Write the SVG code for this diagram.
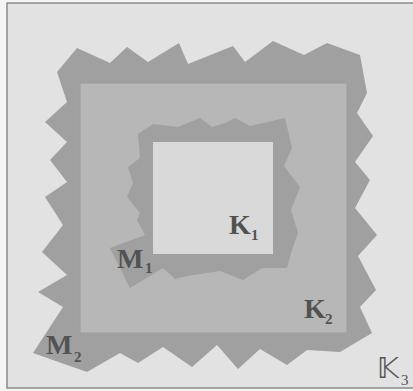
<svg xmlns="http://www.w3.org/2000/svg" width="413" height="391" viewBox="0 0 413 391">
<style>
.lbl{font-family:"Liberation Serif","Times New Roman",serif;font-weight:bold;fill:#525252;font-size:28px}
.sub{font-family:"Liberation Serif","Times New Roman",serif;font-weight:bold;fill:#525252;font-size:15px}
.dark{fill:#a0a0a0}
</style>
<rect x="0" y="0" width="413" height="391" fill="#f4f4f4"/>
<rect x="7" y="3" width="410" height="385" fill="#e2e2e2" stroke="#8a8a8a" stroke-width="1.5"/>
<g id="M2">
<polygon class="dark" points="57,72 77,48 110,63 127,47 148,62 179,43 188,64 233,46 245,62 273,41 304,55 327,43 360,55 367,93 357,113 373,136 355,162 370,180 355,208 377,235 358,256 376,290 360,307 372,333 340,352 307,350 287,365 260,349 238,369 217,345 192,367 163,347 138,363 120,353 87,372 33,353 63,307 38,292 67,275 42,252 63,225 45,197 67,182 50,160 67,142 45,122 67,102"/>
<text class="lbl" x="46" y="354" font-size="25">M</text><text class="sub" x="74" y="362">2</text>
</g>
<g id="K2">
<rect x="80" y="83" width="267" height="250" fill="#b7b7b7" stroke="#9c9c9c" stroke-width="1"/>
<text class="lbl" x="304" y="318">K</text><text class="sub" x="325" y="324">2</text>
</g>
<g id="M1">
<polygon class="dark" points="138,134 153,124 178,127 200,118 212,127 225,123 235,118 250,126 285,118 292,148 284,166 300,187 291,210 298,233 292,250 287,268 262,268 243,280 220,271 187,276 175,279 163,268 130,288 110,248 145,235 137,220 140,213 127,197 133,183 128,167 140,158"/>
<text class="lbl" x="117" y="268" font-size="25">M</text><text class="sub" x="145" y="273">1</text>
</g>
<g id="K1">
<rect x="153" y="142" width="120" height="112" fill="#d9d9d9"/>
<text class="lbl" x="229" y="234">K</text><text class="sub" x="251" y="240">1</text>
</g>
<g id="K3">
<text x="377" y="378" font-family="DejaVu Sans,sans-serif" font-size="29" fill="#555555">𝕂</text><text class="sub" x="401" y="385" style="font-weight:normal">3</text>
</g>
</svg>
